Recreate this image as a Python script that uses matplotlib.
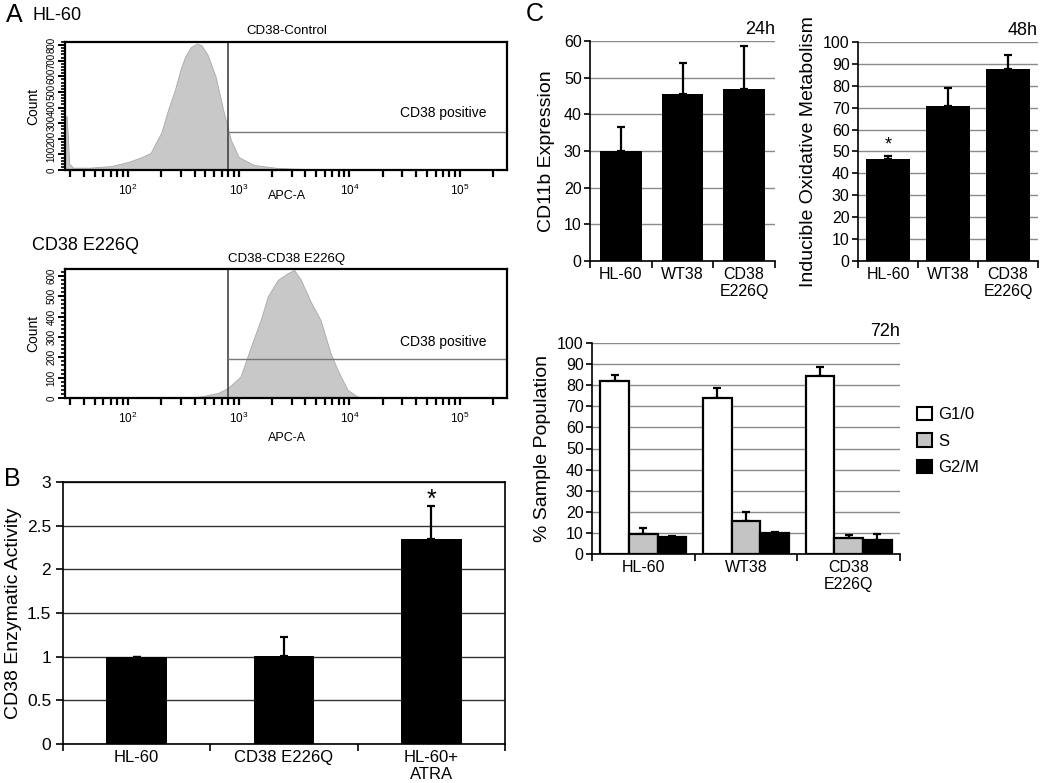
import numpy as np
import matplotlib
matplotlib.use('Agg')
import matplotlib.pyplot as plt
from matplotlib.ticker import MultipleLocator, LogLocator, NullFormatter, FixedLocator
from matplotlib.patches import Patch

plt.rcParams['font.family'] = ['Liberation Sans', 'DejaVu Sans']

W, H = 1050, 783

# ---- panel A: flow histograms (APC-A intensity vs count)
ctrl_apc = [27, 28, 29.5, 32, 45, 70, 100, 130, 160, 200, 230, 265, 300, 330, 370,
            420, 460, 525, 620, 725, 850, 1000, 1370, 2250, 5000, 260000]
ctrl_count = [330, 346, 40, 15, 15, 25, 51, 80, 109, 240, 384, 512, 650, 730, 788,
              810, 800, 737, 596, 384, 192, 83, 32, 13, 3, 0]
mut_apc = [300, 460, 650, 800, 1040, 1290, 1580, 1830, 2250, 2760, 3170, 3650,
           4460, 5480, 6750, 7800, 9600, 11700, 14000]
mut_count = [0, 8, 25, 49, 106, 253, 384, 499, 580, 613, 629, 580,
             474, 384, 221, 139, 41, 8, 0]
gate_x = 800
ctrl_gate_y = 243
mut_gate_y = 192

# ---- panel B
b_labels = ['HL-60', 'CD38 E226Q', 'HL-60+\nATRA']
b_vals = [1.0, 1.01, 2.35]
b_err = [0.0, 0.21, 0.38]

# ---- panel C
c_labels = ['HL-60', 'WT38', 'CD38\nE226Q']
cd11b_vals = [30, 45.5, 47]
cd11b_err = [6.5, 8.5, 11.5]
oxid_vals = [46.5, 71, 87.5]
oxid_err = [1.5, 8, 6.5]
phases = ['G1/0', 'S', 'G2/M']
g1_vals = [82, 74, 84.5]
g1_err = [3, 4.5, 4]
s_vals = [9.5, 15.5, 7.5]
s_err = [3, 4.5, 1.5]
g2_vals = [8, 10, 6.5]
g2_err = [0.5, 0.3, 3]


def px(l, t, r, b):
    return [l / W, 1 - b / H, (r - l) / W, (b - t) / H]


def ftext(x, y, s, **kw):
    fig.text(x / W, 1 - y / H, s, **kw)


fig = plt.figure(figsize=(W / 100, H / 100), dpi=100)

# ================= panel A =================
def flow_panel(rect, apc, count, ymax, major, gate_y, label_frac, title, title_y, lab_y):
    ax = fig.add_axes(px(*rect))
    ax.fill_between(apc, count, color='#c8c8c8', edgecolor='#a8a8a8', lw=0.6)
    ax.set_xscale('log')
    ax.set_xlim(27, 2.65e5)
    ax.set_ylim(0, ymax)
    ax.axvline(gate_x, color='#444444', lw=1.2)
    ax.plot([gate_x, 2.65e5], [gate_y, gate_y], color='#777777', lw=1)
    ax.text(0.758, label_frac, 'CD38 positive', transform=ax.transAxes,
            fontsize=10, va='center', ha='left')
    for s in ax.spines.values():
        s.set_linewidth(1.6)
    ax.xaxis.set_major_locator(LogLocator(base=10, numticks=10))
    ax.xaxis.set_minor_locator(LogLocator(base=10, subs=range(2, 10), numticks=20))
    ax.xaxis.set_minor_formatter(NullFormatter())
    ax.yaxis.set_major_locator(MultipleLocator(major))
    ax.yaxis.set_minor_locator(MultipleLocator(major / 5))
    ax.tick_params(axis='x', which='both', length=5, width=1.6, labelsize=8.5, pad=4)
    ax.tick_params(axis='y', which='major', length=5, width=1.4, labelsize=7,
                   labelrotation=90, pad=1)
    ax.tick_params(axis='y', which='minor', length=3, width=1.2)
    for lab in ax.get_yticklabels():
        lab.set_va('center')
    ftext(287, title_y, title, fontsize=9.5, ha='center', va='center')
    ftext(287, lab_y, 'APC-A', fontsize=9, ha='center', va='center')
    ftext(33, (rect[1] + rect[3]) / 2, 'Count', fontsize=10, rotation=90,
          ha='center', va='center')
    return ax


flow_panel((65, 42, 507, 170), ctrl_apc, ctrl_count, 820, 100, ctrl_gate_y, 0.445,
           'CD38-Control', 31, 196)
flow_panel((65, 269, 507, 398), mut_apc, mut_count, 634, 100, mut_gate_y, 0.434,
           'CD38-CD38 E226Q', 259, 438)

ftext(6, 15, 'A', fontsize=18, va='center')
ftext(32, 15, 'HL-60', fontsize=13, va='center')
ftext(32, 245, 'CD38 E226Q', fontsize=13, va='center')


# ================= bar helpers =================
def cat_axis(ax, labels, fs):
    n = len(labels)
    ax.set_xlim(-0.5, n - 0.5)
    ax.xaxis.set_major_locator(FixedLocator(np.arange(-0.5, n, 1.0)))
    ax.xaxis.set_major_formatter(NullFormatter())
    ax.xaxis.set_minor_locator(FixedLocator(np.arange(n)))
    ax.set_xticklabels(labels, minor=True)
    ax.tick_params(axis='x', which='major', length=5, width=1.2, direction='out')
    ax.tick_params(axis='x', which='minor', length=0, labelsize=fs, pad=4)


# ================= panel B =================
axb = fig.add_axes(px(63, 482, 505, 744))
xb = np.arange(len(b_vals))
axb.bar(xb, b_vals, width=0.41, color='black', zorder=3)
axb.errorbar(xb, b_vals, yerr=[np.zeros(len(b_err)), b_err], fmt='none',
             ecolor='black', elinewidth=1.6, capsize=3, capthick=1.6, zorder=3)
axb.set_ylim(0, 3)
axb.set_yticks([0, 0.5, 1, 1.5, 2, 2.5, 3], ['0', '0.5', '1', '1.5', '2', '2.5', '3'])
axb.grid(axis='y', color='#333333', lw=1)
axb.set_axisbelow(True)
for s in axb.spines.values():
    s.set_linewidth(1.2)
cat_axis(axb, b_labels, 12)
axb.tick_params(axis='y', length=5, width=1.2, labelsize=12.5)
ftext(14, 613, 'CD38 Enzymatic Activity', fontsize=14, rotation=90,
      ha='center', va='center')
axb.text(2, 2.8, '*', ha='center', va='center', fontsize=18)
ftext(4, 479, 'B', fontsize=18, va='center')


# ================= panel C =================
def c_style(ax, ymax):
    ax.set_ylim(0, ymax)
    ax.yaxis.set_major_locator(MultipleLocator(10))
    ax.grid(axis='y', color='#8a8a8a', lw=1)
    ax.set_axisbelow(True)
    for side in ('top', 'right'):
        ax.spines[side].set_visible(False)
    for side in ('left', 'bottom'):
        ax.spines[side].set_linewidth(1.2)
    ax.tick_params(axis='y', length=4, width=1.2, labelsize=11.5, pad=2)


ax24 = fig.add_axes(px(590, 41, 775, 261))
xc = np.arange(3)
ax24.bar(xc, cd11b_vals, width=0.68, color='black', zorder=3)
ax24.errorbar(xc, cd11b_vals, yerr=[np.zeros(3), cd11b_err], fmt='none',
              ecolor='black', elinewidth=1.6, capsize=3, capthick=1.6, zorder=3)
c_style(ax24, 60)
cat_axis(ax24, c_labels, 11.5)
ax24.set_ylabel('CD11b Expression', fontsize=14, labelpad=6)
ax24.text(1.0, 1.015, '24h', transform=ax24.transAxes, ha='right', va='bottom',
          fontsize=13)

ax48 = fig.add_axes(px(858, 42, 1038, 261))
ax48.bar(xc, oxid_vals, width=0.72, color='black', zorder=3)
ax48.errorbar(xc, oxid_vals, yerr=[np.zeros(3), oxid_err], fmt='none',
              ecolor='black', elinewidth=1.6, capsize=3, capthick=1.6, zorder=3)
c_style(ax48, 100)
cat_axis(ax48, c_labels, 11.5)
ax48.set_ylabel('Inducible Oxidative Metabolism', fontsize=14, labelpad=4)
ax48.text(1.0, 1.015, '48h', transform=ax48.transAxes, ha='right', va='bottom',
          fontsize=13)
ax48.text(0, oxid_vals[0] + oxid_err[0] + 5, '*', ha='center', va='center',
          fontsize=13)

ax72 = fig.add_axes(px(592, 343, 900, 554))
bw = 0.28
series = [(g1_vals, g1_err, 'white'), (s_vals, s_err, '#c4c4c4'),
          (g2_vals, g2_err, 'black')]
for i, (vals, err, col) in enumerate(series):
    xs = xc + (i - 1) * bw
    ax72.bar(xs, vals, width=bw, color=col, edgecolor='black', lw=1.6, zorder=3)
    ax72.errorbar(xs, vals, yerr=[np.zeros(3), err], fmt='none', ecolor='black',
                  elinewidth=1.6, capsize=3, capthick=1.6, zorder=2.9)
c_style(ax72, 100)
cat_axis(ax72, c_labels, 11.5)
ax72.set_ylabel('% Sample Population', fontsize=14, labelpad=4)
ax72.text(1.0, 1.015, '72h', transform=ax72.transAxes, ha='right', va='bottom',
          fontsize=13)
handles = [Patch(facecolor=c, edgecolor='black', lw=1.5) for _, _, c in series]
fig.legend(handles, phases, loc='upper left', bbox_to_anchor=(917 / W, 1 - 407 / H),
           frameon=False, fontsize=12, handlelength=0.9, handleheight=0.85,
           handletextpad=0.35, labelspacing=0.65, borderpad=0, borderaxespad=0)

ftext(526, 14, 'C', fontsize=18, va='center')

fig.savefig('out.png', dpi=100)
